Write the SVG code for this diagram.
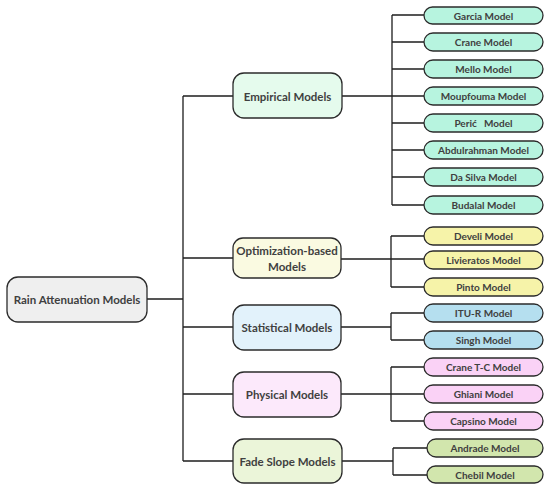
<svg xmlns="http://www.w3.org/2000/svg" width="550" height="490" viewBox="0 0 550 490">
<style>
.n{stroke:#2b2b2b;stroke-width:1.3}
.t{font-family:Lato,"Open Sans","Liberation Sans",sans-serif;font-weight:bold;fill:#404040;text-anchor:middle;dominant-baseline:central}
.m{font-size:11.5px}
.l{font-size:10px}
.c{fill:none;stroke:#1e1e1e;stroke-width:1.3}
.emp{fill:#b7f4df}.opt{fill:#f6f3a9}.sta{fill:#b5dfef}.phy{fill:#fad2f6}.fad{fill:#d2e6ad}
</style>
<rect width="550" height="490" fill="#ffffff"/>
<g id="connectors">
<path class="c" d="M147 299H183M183 96V461M183 96H233M183 258H233M183 327H233M183 394H233M183 461H233"/>
<path class="c" d="M342 96H392M392 15V205M392 15H424M392 42H424M392 69H424M392 96H424M392 123H424M392 150H424M392 177H424M392 205H424"/>
<path class="c" d="M341 259H424M391 236V287M391 236H424M391 287H424"/>
<path class="c" d="M341 327H391M391 313V340M391 313H424M391 340H424"/>
<path class="c" d="M341 394H424M391 367V421M391 367H424M391 421H424"/>
<path class="c" d="M342 461H393M393 448V475M393 448H427M393 475H427"/>
</g>
<g id="root"><rect class="n" x="7" y="277" width="140" height="45" rx="11" fill="#efefef"/><text class="t m" x="77" y="299.5">Rain Attenuation Models</text></g>
<g id="empirical"><rect class="n" x="233" y="73" width="109" height="45" rx="11" fill="#e5fbed"/><text class="t m" x="287.5" y="96">Empirical Models</text></g>
<g id="optimization"><rect class="n" x="233" y="238" width="108" height="40" rx="10" fill="#fafae1"/><text class="t m" x="287" y="250">Optimization-based</text><text class="t m" x="287" y="266">Models</text></g>
<g id="statistical"><rect class="n" x="233" y="305" width="108" height="45" rx="11" fill="#e2f2fb"/><text class="t m" x="287" y="327.5">Statistical Models</text></g>
<g id="physical"><rect class="n" x="233" y="372" width="108" height="45" rx="11" fill="#fce9fb"/><text class="t m" x="287" y="394.5">Physical Models</text></g>
<g id="fadeslope"><rect class="n" x="233" y="439" width="109" height="44" rx="11" fill="#ebf5d9"/><text class="t m" x="287.5" y="461">Fade Slope Models</text></g>
<g id="garcia"><rect class="n emp" x="424" y="7" width="119" height="17" rx="8.5"/><text class="t l" x="483.5" y="15.5">Garcia Model</text></g>
<g id="crane"><rect class="n emp" x="424" y="33" width="119" height="18" rx="9"/><text class="t l" x="483.5" y="42">Crane Model</text></g>
<g id="mello"><rect class="n emp" x="424" y="60" width="119" height="18" rx="9"/><text class="t l" x="483.5" y="69">Mello Model</text></g>
<g id="moupfouma"><rect class="n emp" x="424" y="87" width="119" height="18" rx="9"/><text class="t l" x="483.5" y="96">Moupfouma Model</text></g>
<g id="peric"><rect class="n emp" x="424" y="114" width="119" height="18" rx="9"/><text class="t l" x="483.5" y="123" style="white-space:pre">Perić   Model</text></g>
<g id="abdulrahman"><rect class="n emp" x="424" y="141" width="119" height="18" rx="9"/><text class="t l" x="483.5" y="150">Abdulrahman Model</text></g>
<g id="dasilva"><rect class="n emp" x="424" y="168" width="119" height="18" rx="9"/><text class="t l" x="483.5" y="177">Da Silva Model</text></g>
<g id="budalal"><rect class="n emp" x="424" y="196" width="119" height="18" rx="9"/><text class="t l" x="483.5" y="205">Budalal Model</text></g>
<g id="develi"><rect class="n opt" x="424" y="227" width="119" height="18" rx="9"/><text class="t l" x="483.5" y="236">Develi Model</text></g>
<g id="livieratos"><rect class="n opt" x="424" y="251" width="119" height="18" rx="9"/><text class="t l" x="483.5" y="260">Livieratos Model</text></g>
<g id="pinto"><rect class="n opt" x="424" y="278" width="119" height="18" rx="9"/><text class="t l" x="483.5" y="287">Pinto Model</text></g>
<g id="itur"><rect class="n sta" x="424" y="304" width="119" height="18" rx="9"/><text class="t l" x="483.5" y="313">ITU-R Model</text></g>
<g id="singh"><rect class="n sta" x="424" y="331" width="119" height="18" rx="9"/><text class="t l" x="483.5" y="340">Singh Model</text></g>
<g id="cranetc"><rect class="n phy" x="424" y="358" width="119" height="18" rx="9"/><text class="t l" x="483.5" y="367">Crane T-C Model</text></g>
<g id="ghiani"><rect class="n phy" x="424" y="385" width="119" height="18" rx="9"/><text class="t l" x="483.5" y="394">Ghiani Model</text></g>
<g id="capsino"><rect class="n phy" x="424" y="412" width="119" height="18" rx="9"/><text class="t l" x="483.5" y="421">Capsino Model</text></g>
<g id="andrade"><rect class="n fad" x="427" y="439" width="116" height="18" rx="9"/><text class="t l" x="485" y="448">Andrade Model</text></g>
<g id="chebil"><rect class="n fad" x="427" y="466" width="116" height="17" rx="8.5"/><text class="t l" x="485" y="474.5">Chebil Model</text></g>
</svg>
